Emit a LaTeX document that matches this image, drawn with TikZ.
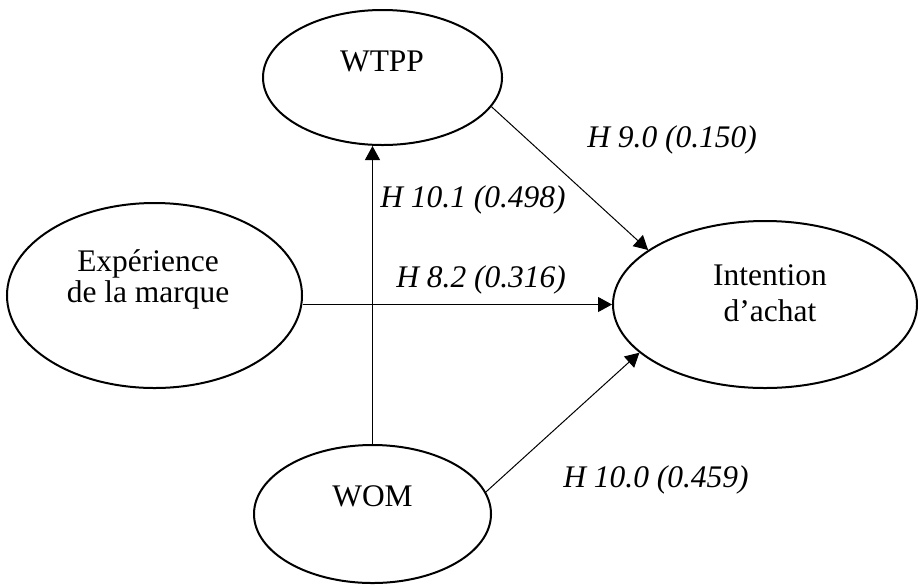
\documentclass[tikz,border=0pt]{standalone}
\usepackage{fontspec}
\setmainfont{Liberation Serif}
\usetikzlibrary{shapes.geometric,arrows.meta}

\begin{document}
\begin{tikzpicture}[
  x=0.2mm, y=-0.2mm,
  construct/.style={ellipse, draw, line width=0.4mm, inner sep=0pt},
  cname/.style={align=center, inner sep=0pt, font=\fontsize{17.9}{19.3}\selectfont},
  hyp/.style={draw, line width=0.2mm, -{Triangle[length=2.8mm, width=3mm]}},
  coef/.style={inner sep=0pt, anchor=base west, font=\fontsize{17.9}{19.3}\selectfont\itshape}
]
  \useasboundingbox (0,0) rectangle (918,585);

  % constructs
  \node[construct, minimum width=47.8mm, minimum height=27mm] (wtpp) at (382.5,77.5) {};
  \node[construct, minimum width=59mm, minimum height=37mm] (exper) at (154.5,295.5) {};
  \node[construct, minimum width=60.8mm, minimum height=33.4mm] (intent) at (765,304.5) {};
  \node[construct, minimum width=47.4mm, minimum height=27.6mm] (wom) at (372.5,514) {};

  \node[cname] (wtppT) at (382,61.5) {WTPP};
  \node[cname] (experT) at (148,279) {Expérience\\[-1.7pt]de la marque};
  \node[cname] (intentT) at (770,293) {Intention\\[1.2pt]d’achat};
  \node[cname] (womT) at (372.5,496.5) {WOM};

  % hypotheses
  \draw[hyp] (wom.north) -- (wom.north |- wtpp.south);
  \draw[hyp] (intent.west -| exper.east) -- (intent.west);
  \draw[hyp] (wtpp.-15) -- (intent.155);
  \draw[hyp] (wom.11) -- (intent.201);

  \node[coef] (h90) at (587,147) {H 9.0 (0.150)};
  \node[coef] (h101) at (380,207) {H 10.1 (0.498)};
  \node[coef] (h82) at (396,287) {H 8.2 (0.316)};
  \node[coef] (h100) at (563,487) {H 10.0 (0.459)};
\end{tikzpicture}
\end{document}
